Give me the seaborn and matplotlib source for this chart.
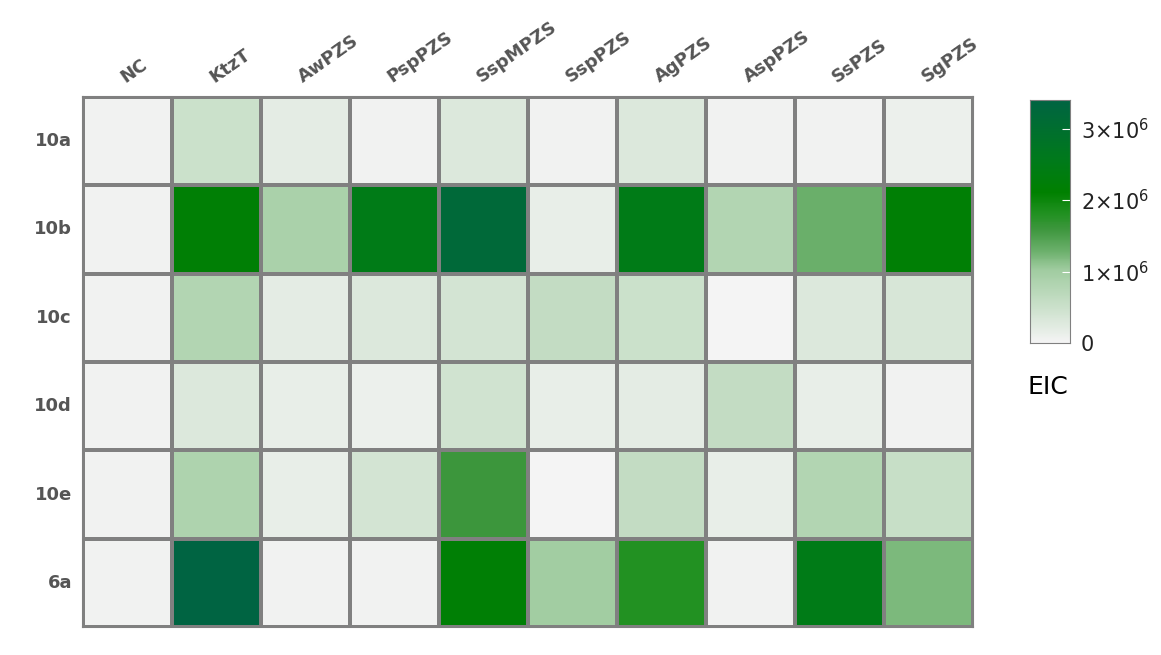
import numpy as np
import pandas as pd
import matplotlib.pyplot as plt
import seaborn as sns
from matplotlib.colors import LinearSegmentedColormap

compounds = ["NC", "KtzT", "AwPZS", "PspPZS", "SspMPZS", "SspPZS", "AgPZS", "AspPZS", "SsPZS", "SgPZS"]
samples = ["10a", "10b", "10c", "10d", "10e", "6a"]

# EIC values (x 1e6)
row_10a = [0.05, 0.50, 0.20, 0.05, 0.30, 0.05, 0.30, 0.05, 0.05, 0.10]
row_10b = [0.05, 2.20, 0.90, 2.50, 3.20, 0.15, 2.50, 0.80, 1.30, 2.20]
row_10c = [0.05, 0.80, 0.20, 0.30, 0.40, 0.60, 0.50, 0.00, 0.30, 0.35]
row_10d = [0.05, 0.30, 0.15, 0.10, 0.45, 0.15, 0.20, 0.60, 0.15, 0.05]
row_10e = [0.05, 0.85, 0.15, 0.40, 1.60, 0.00, 0.60, 0.15, 0.80, 0.55]
row_6a  = [0.05, 3.40, 0.05, 0.05, 2.20, 1.00, 1.80, 0.05, 2.50, 1.20]

df = pd.DataFrame([row_10a, row_10b, row_10c, row_10d, row_10e, row_6a],
                  index=samples, columns=compounds) * 1e6

vmax = 3.4e6
cmap = LinearSegmentedColormap.from_list("eic", [
    (0.00, "#f4f4f4"),
    (0.30, "#a0cca0"),
    (0.38, "#6aaf6a"),
    (0.47, "#3c963c"),
    (0.53, "#229122"),
    (0.62, "#008000"),
    (0.75, "#007a1a"),
    (1.00, "#006442"),
])

fig = plt.figure(figsize=(11.61, 6.55), dpi=100)
ax = fig.add_axes([83/1161, 28/655, 890/1161, 530/655])
cax = fig.add_axes([1030/1161, 312/655, 40/1161, 243/655])

sns.heatmap(df, ax=ax, cmap=cmap, vmin=0, vmax=vmax, linewidths=1.5,
            linecolor="#808080", cbar_ax=cax,
            cbar_kws={"ticks": [0, 1e6, 2e6, 3e6]})
for s in ax.spines.values():
    s.set_visible(True)
    s.set_color("#808080")
    s.set_linewidth(1.5)

ax.xaxis.tick_top()
ax.set_xticklabels(compounds, rotation=35, ha="left", rotation_mode="anchor",
                   fontsize=13, fontweight="bold", color="#555555")
ax.set_yticklabels(samples, rotation=0, fontsize=13, fontweight="bold", color="#555555")
ax.tick_params(length=0, pad=8)
ax.set_xlabel("")
ax.set_ylabel("")

cax.set_yticklabels(["0", r"$1{\times}10^6$", r"$2{\times}10^6$", r"$3{\times}10^6$"],
                    fontsize=15, color="#222222")
cax.tick_params(length=6, color="white", direction="in", pad=8)
for s in cax.spines.values():
    s.set_visible(True)
    s.set_color("#808080")
fig.text(1027/1161, 1 - 387/655, "EIC", fontsize=18, va="center", ha="left")

fig.savefig("out.png", dpi=100)
